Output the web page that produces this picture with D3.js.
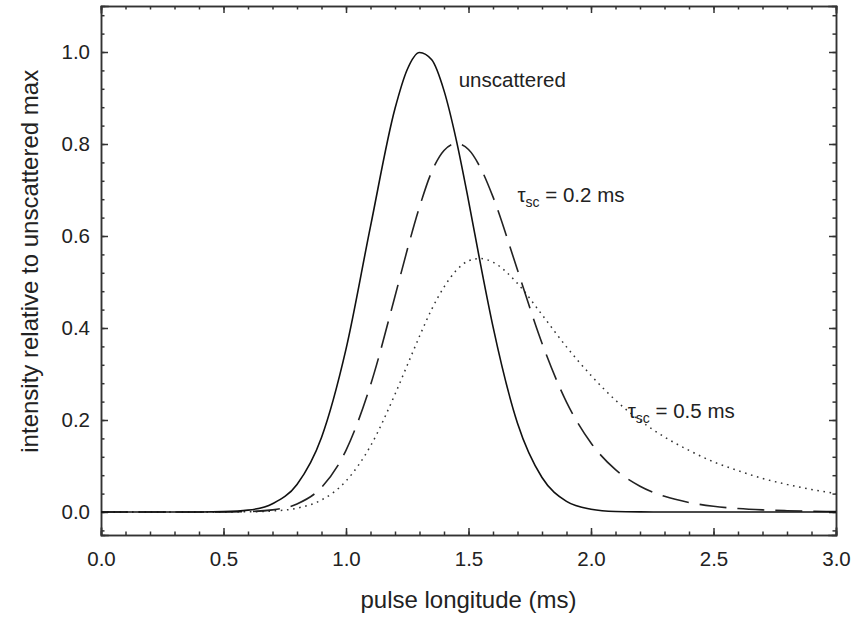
<!DOCTYPE html>
<html>
<head>
<meta charset="utf-8">
<script src="https://cdn.jsdelivr.net/npm/d3@7"></script>
<style>
  body { margin: 0; background: #fff; }
  text { font-family: "Liberation Sans", Arial, sans-serif; fill: #222; }
  .axis path, .axis line { stroke: #333; stroke-width: 1.5; }
  .axis text { font-size: 20.5px; fill: #222; }
</style>
</head>
<body>
<div id="chart"></div>
<script>
// pulse time, ms
var pulseTime = [0, 0.3, 0.4, 0.5, 0.6, 0.7, 0.8, 0.9, 1.0, 1.1, 1.2, 1.25, 1.3, 1.35, 1.4, 1.45,
  1.5, 1.55, 1.6, 1.7, 1.8, 1.9, 2.0, 2.1, 2.2, 2.3, 2.4, 2.5, 2.6, 2.7, 2.8, 2.9, 3.0]

var unscattered = [0, 0, 0.0001, 0.0008, 0.004, 0.018, 0.060, 0.162, 0.354, 0.621, 0.877, 0.962, 0.999, 0.983, 0.916, 0.809,
  0.677, 0.536, 0.403, 0.193, 0.075, 0.023, 0.006, 0.001, 0.0002, 0, 0, 0, 0, 0, 0, 0, 0]

var tau02 = [0, 0, 0.00003, 0.0002, 0.001, 0.0046, 0.0175, 0.0535, 0.134, 0.276, 0.469, 0.570, 0.663, 0.740, 0.786, 0.801,
  0.788, 0.747, 0.685, 0.526, 0.367, 0.239, 0.150, 0.092, 0.056, 0.034, 0.0206, 0.0125, 0.0076, 0.0046, 0.0028, 0.0017, 0.001]

var tau05 = [0, 0, 0.00001, 0.0001, 0.0005, 0.0022, 0.0083, 0.0261, 0.0674, 0.1435, 0.256, 0.319, 0.382, 0.441, 0.489, 0.525,
  0.546, 0.551, 0.543, 0.497, 0.429, 0.359, 0.297, 0.243, 0.199, 0.163, 0.134, 0.109, 0.090, 0.073, 0.060, 0.049, 0.040]

var xTicks = [0, 0.5, 1.0, 1.5, 2.0, 2.5, 3.0]
var yTicks = [0, 0.2, 0.4, 0.6, 0.8, 1.0]

var margin = { top: 6, right: 27, bottom: 82, left: 101 }
var width = 863 - margin.left - margin.right,
    height = 617 - margin.top - margin.bottom

var svg = d3.select("#chart").append("svg")
    .attr("width", 863)
    .attr("height", 617)
    .append("g")
    .attr("transform", "translate(" + margin.left + "," + margin.top + ")")

var xPositionScale = d3.scaleLinear().domain([0, 3]).range([0, width])
var yPositionScale = d3.scaleLinear().domain([-0.05, 1.1]).range([height, 0])

var xMinor = d3.range(0, 31).map(function (i) { return i / 10 })
var yMinor = d3.range(-1, 28).map(function (i) { return i * 0.04 })

var fmt = d3.format(".1f")

// minor ticks on all four sides
svg.append("g").attr("class", "axis")
  .attr("transform", "translate(0," + height + ")")
  .call(d3.axisBottom(xPositionScale).tickValues(xMinor).tickSize(-3.5).tickFormat(""))
svg.append("g").attr("class", "axis")
  .call(d3.axisTop(xPositionScale).tickValues(xMinor).tickSize(-3.5).tickFormat(""))
svg.append("g").attr("class", "axis")
  .call(d3.axisLeft(yPositionScale).tickValues(yMinor).tickSize(-3.5).tickFormat(""))
svg.append("g").attr("class", "axis")
  .attr("transform", "translate(" + width + ",0)")
  .call(d3.axisRight(yPositionScale).tickValues(yMinor).tickSize(-3.5).tickFormat(""))

// major ticks + labels
svg.append("g").attr("class", "axis x-axis")
  .attr("transform", "translate(0," + height + ")")
  .call(d3.axisBottom(xPositionScale).tickValues(xTicks).tickSize(-7).tickPadding(16).tickFormat(fmt))
svg.append("g").attr("class", "axis")
  .call(d3.axisTop(xPositionScale).tickValues(xTicks).tickSize(-7).tickFormat(""))
svg.append("g").attr("class", "axis y-axis")
  .call(d3.axisLeft(yPositionScale).tickValues(yTicks).tickSize(-7).tickPadding(11).tickFormat(fmt))
svg.append("g").attr("class", "axis")
  .attr("transform", "translate(" + width + ",0)")
  .call(d3.axisRight(yPositionScale).tickValues(yTicks).tickSize(-7).tickFormat(""))

svg.selectAll(".axis .domain").attr("stroke-linecap", "square")

var line = d3.line()
  .curve(d3.curveMonotoneX)
  .x(function (d, i) { return xPositionScale(pulseTime[i]) })
  .y(function (d) { return yPositionScale(d) })

svg.append("path").datum(tau05)
  .attr("d", line).attr("fill", "none")
  .attr("stroke", "#333").attr("stroke-width", 1.5)
  .attr("stroke-dasharray", "1.6,4.6")

svg.append("path").datum(tau02)
  .attr("d", line).attr("fill", "none")
  .attr("stroke", "#222").attr("stroke-width", 1.6)
  .attr("stroke-dasharray", "27,11")

svg.append("path").datum(unscattered)
  .attr("d", line).attr("fill", "none")
  .attr("stroke", "#111").attr("stroke-width", 1.6)

// curve labels
svg.append("text")
  .attr("x", xPositionScale(1.46)).attr("y", yPositionScale(0.925))
  .attr("font-size", 20.5)
  .text("unscattered")

function tauLabel(x, y, value) {
  var t = svg.append("text")
    .attr("x", xPositionScale(x)).attr("y", yPositionScale(y))
    .attr("font-size", 20.5)
  t.append("tspan").text("τ")
  t.append("tspan").attr("font-size", 14).attr("dy", 5).text("sc")
  t.append("tspan").attr("dy", -5).text(" = " + value + " ms")
}
tauLabel(1.7, 0.675, "0.2")
tauLabel(2.15, 0.205, "0.5")

// axis titles
svg.append("text")
  .attr("x", width / 2).attr("y", height + 73)
  .attr("text-anchor", "middle")
  .attr("font-size", 24)
  .text("pulse longitude (ms)")

svg.append("text")
  .attr("transform", "translate(" + (-63) + "," + yPositionScale(0.545) + ") rotate(-90)")
  .attr("text-anchor", "middle")
  .attr("font-size", 24)
  .text("intensity relative to unscattered max")
</script>
</body>
</html>
